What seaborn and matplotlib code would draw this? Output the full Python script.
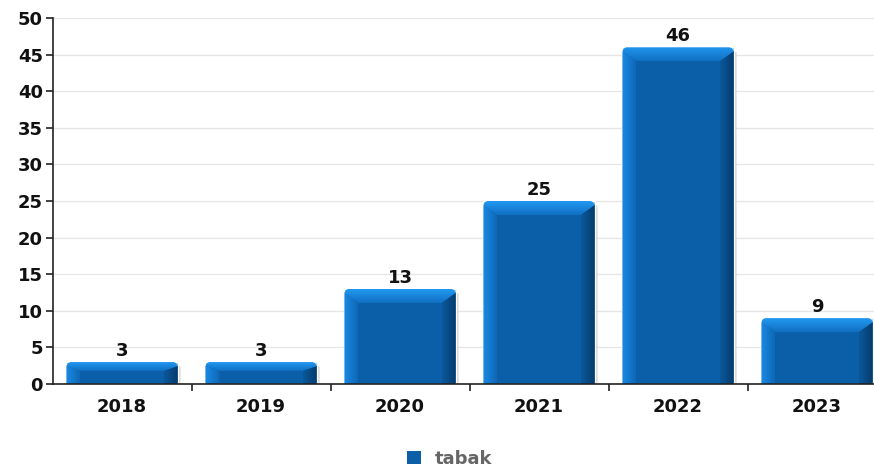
import matplotlib
matplotlib.use("Agg")
import matplotlib.pyplot as plt
from matplotlib.patches import Polygon, Patch
from matplotlib.colors import to_rgb
from matplotlib.ticker import MultipleLocator, FixedLocator
import numpy as np
import seaborn as sns
import pandas as pd

years = ["2018", "2019", "2020", "2021", "2022", "2023"]
counts = [3, 3, 13, 25, 46, 9]
series_name = "tabak"

face = "#0b5fa8"

sns.set_theme(style="white")
plt.rcParams["font.family"] = ["DejaVu Sans"]
FS = 13

df = pd.DataFrame({"year": years, "count": counts})

fig = plt.figure(figsize=(8.74, 4.68), dpi=100)
ax = fig.add_axes([52.5 / 874, 84 / 468, 834 / 874, 366 / 468])

sns.barplot(data=df, x="year", y="count", color=face, width=0.8,
            saturation=1, ax=ax, zorder=2)

ax.set_xlim(-0.5, 5.5)
ax.set_ylim(0, 50)

px_x = 1 / 139.0
px_y = 50 / 366.0


def shaded(pts, c0, c1, vertical, z=3):
    """Fill a polygon with a linear gradient from c0 to c1."""
    poly = Polygon(pts, closed=True, facecolor="none", edgecolor="none")
    ax.add_patch(poly)
    xs = [p[0] for p in pts]
    ys = [p[1] for p in pts]
    t = np.linspace(0, 1, 64)
    a = np.array(to_rgb(c0))
    b = np.array(to_rgb(c1))
    grad = a[None, :] * (1 - t[:, None]) + b[None, :] * t[:, None]
    if vertical:
        img = grad[:, None, :]           # row 0 at top (origin upper)
    else:
        img = grad[None, :, :]
    im = ax.imshow(img, extent=(min(xs), max(xs), min(ys), max(ys)),
                   origin="upper", aspect="auto", zorder=z, interpolation="bilinear")
    im.set_clip_path(poly)


# bevelled look: light top/left edges, dark right edge, soft shadow
for p, v in zip(ax.patches, counts):
    x0 = p.get_x()
    x1 = x0 + p.get_width()
    h = p.get_height()
    bx = 14 * px_x
    by = min(14 * px_y, h * 0.4)
    r = 4
    ax.add_patch(Polygon([(x1, 0), (x1, h - 3 * px_y), (x1 + 3 * px_x, h - 5 * px_y),
                          (x1 + 3 * px_x, 0)], closed=True, facecolor="#bdbdbd",
                         edgecolor="none", alpha=0.6, zorder=1.5))
    top = [(x0, h - r * px_y), (x0 + 1.2 * px_x, h - 1.2 * px_y), (x0 + r * px_x, h),
           (x1 - r * px_x, h), (x1 - 1.2 * px_x, h - 1.2 * px_y), (x1, h - r * px_y),
           (x1 - bx, h - by), (x0 + bx, h - by)]
    left = [(x0, 0), (x0, h - r * px_y), (x0 + bx, h - by), (x0 + bx, 0)]
    right = [(x1 - bx, 0), (x1 - bx, h - by), (x1, h - r * px_y), (x1, 0)]
    # mask the square corners of the base bar
    ax.add_patch(Polygon([(x0, h), (x0 + r * px_x, h), (x0, h - r * px_y)], closed=True,
                         facecolor="white", edgecolor="none", zorder=2.5))
    ax.add_patch(Polygon([(x1, h), (x1 - r * px_x, h), (x1, h - r * px_y)], closed=True,
                         facecolor="white", edgecolor="none", zorder=2.5))
    shaded(left, "#1a8ae6", "#0e68b6", vertical=False)
    shaded(right, "#0a589c", "#073c6c", vertical=False)
    shaded(top, "#2298f2", "#1070c2", vertical=True, z=3.1)
    ax.text(x0 + p.get_width() / 2, h + 0.3, str(v), ha="center", va="bottom",
            fontsize=FS, fontweight="bold", color="#111111", zorder=4)

ax.set_xlim(-0.5, 5.5)
ax.set_ylim(0, 50)

# axes styling
ax.yaxis.set_major_locator(MultipleLocator(5))
ax.grid(axis="y", color="#e6e6e6", linewidth=1, zorder=0)
ax.set_axisbelow(True)
for side in ["top", "right"]:
    ax.spines[side].set_visible(False)
for side in ["left", "bottom"]:
    ax.spines[side].set_color("#222222")
    ax.spines[side].set_linewidth(1.2)
    ax.spines[side].set_zorder(5)

ax.set_xlabel("")
ax.set_ylabel("")
ax.tick_params(axis="y", which="major", length=5, width=1.2, color="#222222",
               labelsize=FS, pad=2, left=True)
ax.tick_params(axis="x", which="major", length=0, labelsize=FS, pad=10)
ax.xaxis.set_minor_locator(FixedLocator([0.5, 1.5, 2.5, 3.5, 4.5]))
ax.tick_params(axis="x", which="minor", length=5, width=1.2, color="#222222", bottom=True)
for lbl in ax.get_xticklabels() + ax.get_yticklabels():
    lbl.set_fontweight("bold")
    lbl.set_color("#111111")

handle = Patch(facecolor=face, edgecolor="none", label=series_name)
leg = fig.legend(handles=[handle], loc="center", bbox_to_anchor=(450 / 874, 1 - 459 / 468),
                 frameon=False, fontsize=FS, handlelength=0.75, handleheight=0.75,
                 handletextpad=0.8)
for t in leg.get_texts():
    t.set_color("#666666")
    t.set_fontweight("bold")

fig.savefig("out.png", dpi=100)
